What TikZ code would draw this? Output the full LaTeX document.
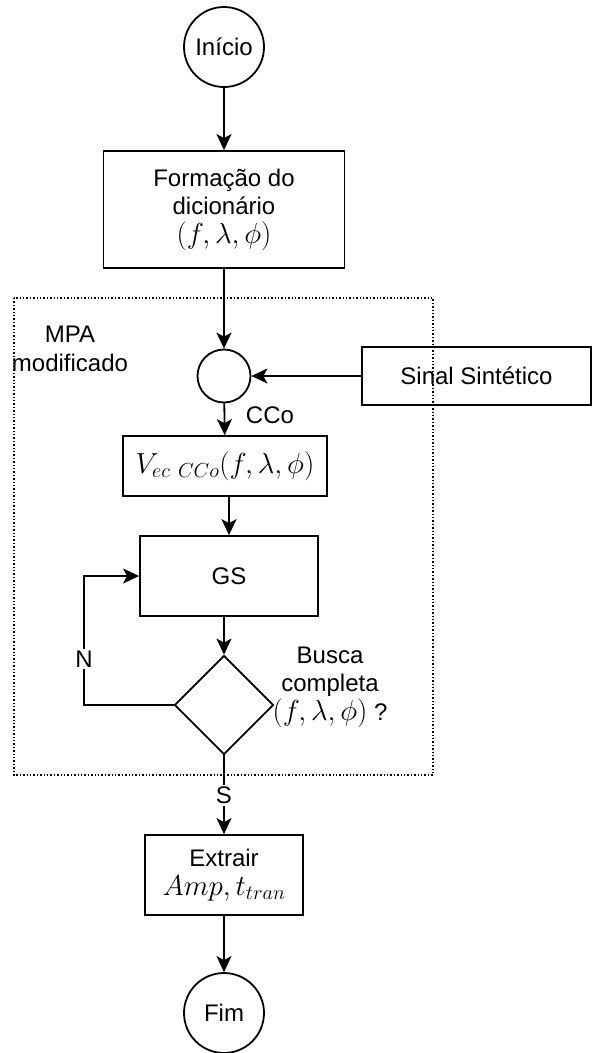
\RequirePackage{fix-cm}
\documentclass[tikz,border=0pt]{standalone}
\usepackage{fontspec}
\setmainfont{Liberation Sans}
\usetikzlibrary{arrows.meta,shapes.geometric}

\newcommand{\mth}[1]{{\fontsize{29}{34}\selectfont$#1$}}

\begin{document}
\begin{tikzpicture}[x=1pt,y=-1pt,line width=1.8pt,
  >={Stealth[length=16pt,width=15pt,inset=4pt]},
  every node/.style={font=\fontsize{24}{28.5}\selectfont},
  blk/.style={draw,rectangle,align=center,inner sep=0pt},
  term/.style={draw,circle,inner sep=0pt,minimum size=80pt},
  lbl/.style={fill=white,inner sep=2pt}]

\useasboundingbox (0,0) rectangle (592,1053);

\node[term] (inicio) at (224,47) {Início};
\node[blk,minimum width=241pt,minimum height=117pt] (dic) at (224,209.5) {Formação do\\dicionário\\\mth{(f,\lambda,\phi)}};

\draw[dotted,line width=1.4pt] (14,298) rectangle (433,775);
\node[align=center] (mpa) at (70,349) {MPA\\modificado};

\node[draw,circle,minimum size=53pt,inner sep=0pt] (soma) at (224,376) {};
\node[blk,minimum width=229pt,minimum height=58pt] (sinal) at (476.5,376) {Sinal Sintético};
\node (cco) at (270,415) {CCo};

\node[blk,minimum width=204pt,minimum height=60pt] (vec) at (225,466) {\mth{V_{ec\ CCo}(f,\lambda,\phi)}};
\node[blk,minimum width=178pt,minimum height=80pt] (gs) at (229,576) {GS};
\node[draw,diamond,aspect=1,minimum size=99pt,inner sep=0pt] (busca) at (224,705) {};
\node[align=center] (pergunta) at (330,687) {Busca\\completa\\\mth{(f,\lambda,\phi)} ?};

\node[blk,minimum width=158pt,minimum height=80pt] (extr) at (224,875) {Extrair\\\mth{Amp, t_{tran}}};
\node[term] (fim) at (224,1013) {Fim};

\coordinate (volta) at (84,576);

\draw[->] (inicio) -- (dic);
\draw[->] (dic) -- (soma);
\draw[->] (sinal) -- (soma);
\draw[->] (soma) -- (vec);
\draw[->] (vec.south -| gs.north) -- (gs.north);
\draw[->] (gs.south -| busca.north) -- (busca.north);
\draw[->] (busca.west) -| (volta) -- (gs.west);
\draw[->] (busca) -- (extr);
\draw[->] (extr) -- (fim);

\node[lbl] at (84,659) {N};
\node[lbl] at (224,795) {S};

\end{tikzpicture}
\end{document}
